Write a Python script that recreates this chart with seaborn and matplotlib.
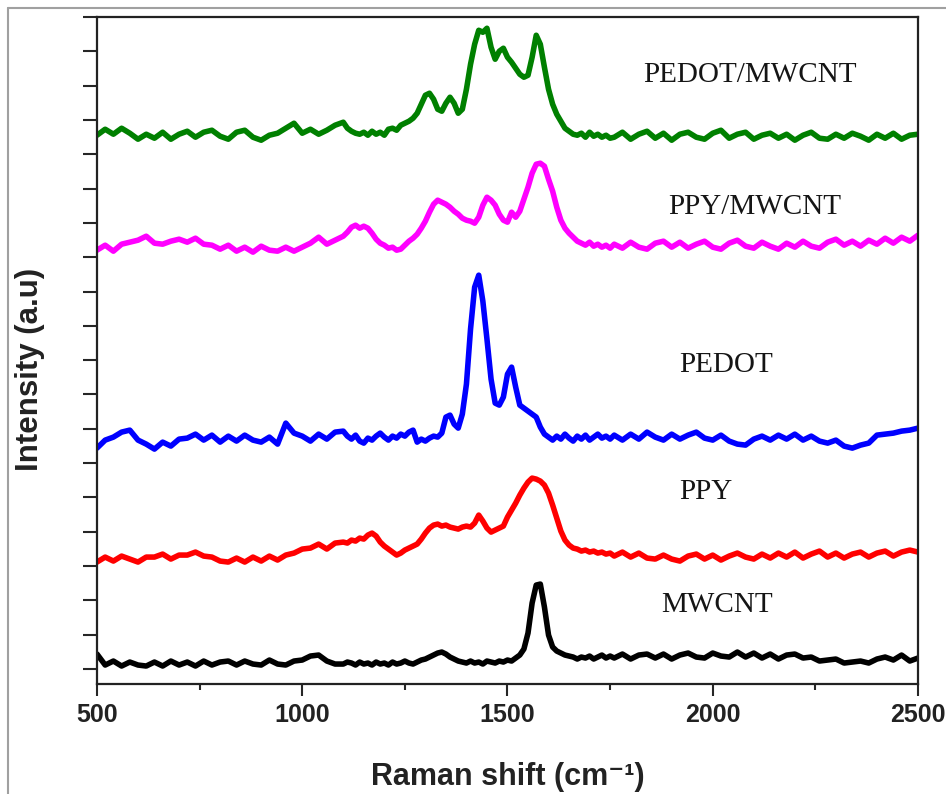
import matplotlib
matplotlib.use("Agg")
import matplotlib.pyplot as plt
from matplotlib.lines import Line2D
import seaborn as sns
import numpy as np
import pandas as pd

# Eixo x (Raman shift, cm-1): passo 20 nas bordas, passo 10 na regiao dos picos
SHIFT_A = np.arange(500, 1081, 20)
SHIFT_B = np.arange(1100, 1751, 10)
SHIFT_C = np.arange(1760, 2501, 20)
SHIFT = np.concatenate([SHIFT_A, SHIFT_B, SHIFT_C])

# Intensidades (u.a., ja com deslocamento vertical)
PEDOT_MWCNT = [
    534, 540, 535, 541, 536, 530, 535, 531, 537, 530,
    535, 538, 532, 537, 539, 533, 530, 537, 539, 532,
    529, 534, 536, 541, 546, 536, 540, 535, 539, 544,
    # 1100-1750
    547, 541, 538, 536, 535, 537, 534, 538, 535, 537,
    534, 540, 541, 539, 544, 546, 548, 551, 556, 565,
    574, 576, 570, 560, 558, 566, 572, 566, 556, 560,
    580, 605, 625, 639, 637, 641, 622, 610, 618, 621,
    612, 607, 601, 595, 592, 594, 612, 634, 625, 602,
    580, 565, 555, 548, 541, 538, 535, 534, 536, 532,
    537, 533, 535, 532, 534, 531,
    # 1760-2500
    532, 537, 530, 535, 538, 531, 536, 529, 535, 537,
    532, 530, 536, 539, 531, 535, 537, 530, 534, 536,
    531, 535, 529, 534, 537, 531, 530, 535, 531, 536,
    533, 529, 535, 531, 536, 530, 534, 535,
]
PPY_MWCNT = [
    419, 424, 418, 425, 427, 429, 433, 426, 425, 428,
    430, 427, 431, 425, 424, 420, 424, 418, 422, 417,
    423, 419, 418, 422, 418, 422, 426, 432, 425, 429,
    433, 437, 442, 444, 441, 443, 441, 436, 430, 426,
    424, 421, 422, 419, 420, 424, 428, 431, 435, 441,
    448, 457, 465, 469, 467, 465, 462, 458, 455, 451,
    449, 448, 446, 452, 464, 472, 469, 464, 455, 449,
    447, 457, 452, 458, 470, 482, 496, 505, 506, 503,
    490, 478, 462, 449, 441, 436, 432, 428, 426, 424,
    427, 423, 425, 422, 424, 421,
    425, 421, 427, 422, 420, 426, 428, 422, 427, 421,
    425, 428, 422, 420, 426, 429, 423, 421, 427, 423,
    420, 426, 422, 428, 423, 421, 427, 430, 424, 428,
    423, 429, 425, 431, 426, 432, 428, 434,
]
PEDOT = [
    221, 229, 232, 237, 239, 229, 225, 220, 227, 223,
    230, 231, 235, 229, 234, 227, 233, 228, 234, 229,
    227, 232, 225, 246, 236, 233, 228, 235, 230, 237,
    238, 233, 230, 234, 228, 226, 231, 229, 233, 236,
    232, 229, 233, 231, 235, 233, 237, 239, 227, 230,
    228, 231, 233, 232, 236, 252, 254, 245, 241, 255,
    285, 340, 382, 394, 368, 330, 290, 266, 264, 272,
    295, 302, 282, 264, 261, 258, 255, 252, 242, 235,
    232, 229, 233, 230, 235, 231, 228, 233, 230, 234,
    229, 232, 235, 231, 233, 230,
    234, 229, 235, 230, 237, 232, 229, 235, 230, 234,
    237, 231, 229, 234, 228, 225, 224, 230, 233, 229,
    234, 230, 235, 229, 233, 228, 226, 229, 223, 221,
    224, 226, 234, 235, 236, 238, 239, 241,
]
PPY = [
    107, 112, 108, 113, 110, 107, 112, 112, 115, 110,
    114, 114, 117, 113, 112, 108, 107, 111, 107, 112,
    108, 113, 109, 114, 116, 120, 121, 125, 120, 126,
    127, 126, 129, 128, 131, 130, 134, 136, 133, 127,
    123, 120, 117, 114, 116, 119, 121, 123, 125, 130,
    136, 141, 144, 145, 143, 144, 142, 141, 140, 142,
    143, 142, 146, 154, 148, 141, 137, 139, 141, 143,
    152, 159, 166, 174, 181, 187, 191, 190, 188, 184,
    176, 164, 151, 138, 129, 124, 121, 120, 118, 119,
    117, 118, 116, 117, 115, 116,
    113, 117, 112, 116, 111, 110, 114, 110, 108, 113,
    115, 110, 114, 109, 113, 116, 112, 110, 115, 111,
    116, 112, 117, 111, 115, 118, 112, 116, 111, 115,
    117, 112, 116, 118, 113, 117, 119, 117,
]
MWCNT = [
    15, 4, 8, 3, 7, 4, 3, 7, 3, 8,
    4, 7, 3, 8, 4, 7, 8, 4, 8, 5,
    4, 9, 5, 4, 8, 9, 13, 14, 8, 5,
    5, 7, 6, 4, 7, 5, 6, 4, 7, 5,
    6, 4, 7, 5, 6, 8, 6, 5, 7, 9,
    10, 12, 14, 16, 17, 15, 12, 10, 8, 7,
    6, 8, 6, 7, 5, 8, 7, 6, 8, 7,
    9, 8, 11, 14, 20, 36, 66, 84, 85, 62,
    34, 22, 18, 16, 14, 13, 12, 10, 12, 11,
    13, 10, 12, 14, 11, 13,
    11, 15, 10, 14, 15, 11, 15, 10, 14, 16,
    12, 11, 16, 13, 12, 17, 12, 16, 11, 15,
    10, 14, 15, 11, 12, 8, 9, 10, 6, 7,
    8, 6, 10, 12, 9, 14, 8, 11,
]

AMOSTRAS = ['MWCNT', 'PPY', 'PEDOT', 'PPY/MWCNT', 'PEDOT/MWCNT']
CORES = {'MWCNT': '#000000', 'PPY': '#ff0000', 'PEDOT': '#0000ff',
         'PPY/MWCNT': '#ff00ff', 'PEDOT/MWCNT': '#008000'}
# posicao dos rotulos (shift, intensidade)
ROTULOS_X = [2010, 1984, 2032, 2103, 2091]
ROTULOS_Y = [64, 177, 304, 462, 594]

# Tabela longa para o seaborn
series = [MWCNT, PPY, PEDOT, PPY_MWCNT, PEDOT_MWCNT]
df = pd.concat([
    pd.DataFrame({'shift': SHIFT, 'intensidade': vals, 'amostra': nome})
    for nome, vals in zip(AMOSTRAS, series)
], ignore_index=True)

sns.set_style("ticks")
plt.rcParams['font.family'] = ['Liberation Sans', 'DejaVu Sans']

fig = plt.figure(figsize=(9.46, 7.94), dpi=100)
ax = fig.add_axes([0.1025, 0.1385, 0.8679, 0.8401])

sns.lineplot(data=df, x='shift', y='intensidade', hue='amostra',
             palette=CORES, estimator=None, sort=False, linewidth=4.0,
             legend=False, ax=ax)

for nome, tx, ty in zip(AMOSTRAS, ROTULOS_X, ROTULOS_Y):
    ax.text(tx, ty, nome, ha='center', va='center', fontsize=21,
            family='Liberation Serif', color='#151515')

ax.set_xlim(500, 2500)
ax.set_ylim(-15, 652)
ax.set_xticks([500, 1000, 1500, 2000, 2500])
ax.set_xticks([750, 1250, 1750, 2250], minor=True)
ax.set_yticks(np.arange(0, 653, 34.33))
ax.set_yticklabels([])
ax.set_xlabel('')
ax.set_ylabel('')
for lab in ax.get_xticklabels():
    lab.set_fontweight('bold')
    lab.set_fontsize(18)
    lab.set_color('#222222')

ax.tick_params(axis='x', which='major', direction='out', length=8.5, width=1.5, pad=5)
ax.tick_params(axis='x', which='minor', direction='out', length=4.5, width=1.5)
ax.tick_params(axis='y', which='major', direction='out', length=10, width=1.5)
for sp in ax.spines.values():
    sp.set_linewidth(1.6)
    sp.set_color('#222222')

fig.text(508 / 946, 1 - 777 / 794, 'Raman shift (cm\u207b\u00b9)', ha='center',
         va='center', fontsize=22, fontweight='bold', color='#222222')
fig.text(30 / 946, 1 - 369 / 794, 'Intensity (a.u)', ha='center', va='center',
         rotation=90, fontsize=22.5, fontweight='bold', color='#222222')

# moldura cinza externa da imagem original
fig.add_artist(Line2D([8 / 946, 8 / 946], [0, 1 - 8 / 794], transform=fig.transFigure,
                      color='#a0a0a0', linewidth=1.5))
fig.add_artist(Line2D([8 / 946, 1], [1 - 8 / 794, 1 - 8 / 794], transform=fig.transFigure,
                      color='#a0a0a0', linewidth=1.5))

fig.savefig('out.png', dpi=100)
plt.close(fig)
